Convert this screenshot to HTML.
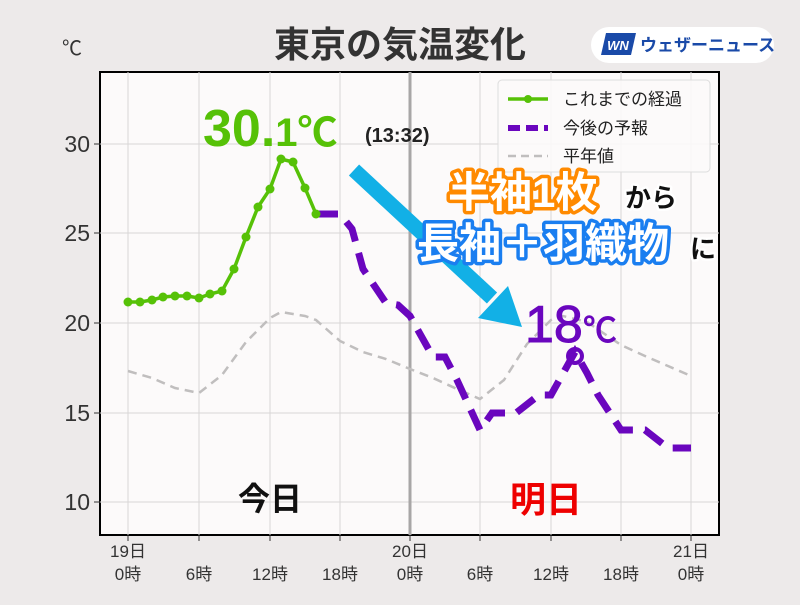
<!DOCTYPE html>
<html><head><meta charset="utf-8"><style>
body{margin:0;background:#edeaea;}
svg text{font-family:"Liberation Sans","Noto Sans CJK JP",sans-serif;}
</style></head><body>
<svg width="800" height="600" viewBox="0 0 800 600" xmlns="http://www.w3.org/2000/svg">
<rect width="800" height="600" fill="#edeaea"/>
<text x="400" y="57" text-anchor="middle" font-size="36" font-weight="bold" fill="#333">東京の気温変化</text>
<text x="62" y="55" font-size="20" fill="#333">℃</text>
<rect x="591" y="27" width="183" height="36" rx="18" fill="#fff"/>
<polygon points="606,33 636,33 631,55 601,55" fill="#1a4aa8"/>
<text x="618" y="50" text-anchor="middle" font-size="13" font-weight="bold" font-style="italic" fill="#fff">WN</text>
<text x="640" y="51" font-size="17" font-weight="bold" fill="#1a4aa8">ウェザーニュース</text>
<rect x="100" y="72" width="619" height="463" fill="#fcfafa" stroke="#000" stroke-width="2"/>
<g stroke="#d8d6d6" stroke-width="1">
<line x1="100" y1="144" x2="719" y2="144"/><line x1="100" y1="233" x2="719" y2="233"/><line x1="100" y1="323" x2="719" y2="323"/><line x1="100" y1="413" x2="719" y2="413"/><line x1="100" y1="502" x2="719" y2="502"/>
<line x1="128" y1="72" x2="128" y2="535"/><line x1="199" y1="72" x2="199" y2="535"/><line x1="270" y1="72" x2="270" y2="535"/><line x1="340" y1="72" x2="340" y2="535"/><line x1="480" y1="72" x2="480" y2="535"/><line x1="551" y1="72" x2="551" y2="535"/><line x1="621" y1="72" x2="621" y2="535"/><line x1="691" y1="72" x2="691" y2="535"/>
</g>
<line x1="410" y1="72" x2="410" y2="535" stroke="#a8a6a6" stroke-width="3"/>
<g font-size="23" fill="#333" text-anchor="end">
<text x="90" y="152">30</text><text x="90" y="241">25</text><text x="90" y="331">20</text><text x="90" y="421">15</text><text x="90" y="510">10</text>
</g>
<g stroke="#333" stroke-width="1">
<line x1="128" y1="535" x2="128" y2="541"/><line x1="199" y1="535" x2="199" y2="541"/><line x1="270" y1="535" x2="270" y2="541"/><line x1="340" y1="535" x2="340" y2="541"/><line x1="410" y1="535" x2="410" y2="541"/><line x1="480" y1="535" x2="480" y2="541"/><line x1="551" y1="535" x2="551" y2="541"/><line x1="621" y1="535" x2="621" y2="541"/><line x1="691" y1="535" x2="691" y2="541"/>
<line x1="94" y1="144" x2="100" y2="144"/><line x1="94" y1="233" x2="100" y2="233"/><line x1="94" y1="323" x2="100" y2="323"/><line x1="94" y1="413" x2="100" y2="413"/><line x1="94" y1="502" x2="100" y2="502"/>
</g>
<g font-size="17" fill="#333" text-anchor="middle">
<text x="128" y="557">19日</text><text x="128" y="580">0時</text>
<text x="199" y="580">6時</text><text x="270" y="580">12時</text><text x="340" y="580">18時</text>
<text x="410" y="557">20日</text><text x="410" y="580">0時</text>
<text x="480" y="580">6時</text><text x="551" y="580">12時</text><text x="621" y="580">18時</text>
<text x="691" y="557">21日</text><text x="691" y="580">0時</text>
</g>
<polyline fill="none" stroke="#c0bebe" stroke-width="2.5" stroke-dasharray="9,6" points="128,371 152,378 175,388 199,393 222,375 246,342 270,318 281,312 305,316 316,320 340,341 363,352 386,359 410,369 433,378 457,389 480,399 504,380 527,344 551,320 563,316 587,322 621,345 645,356 668,366 691,376"/>
<polyline fill="none" stroke="#6a06be" stroke-width="7" stroke-dasharray="22,12" points="316,214 340,214 352,229 363,269 386,303 398,305 410,316 433,357 445,357 457,380 480,430 492,413 516,413 539,395 551,395 575,352 587,373 598,395 621,430 645,430 668,448 691,448"/>
<circle cx="575" cy="356" r="7" fill="none" stroke="#6a06be" stroke-width="4"/>
<polyline fill="none" stroke="#56c107" stroke-width="3.5" points="128,302 140,302 152,300 163,297 175,296 187,296 199,298 210,294 222,291 234,269 246,237 258,207 270,189 281,159 293,162 305,188 316,214"/>
<g fill="#56c107">
<circle cx="128" cy="302" r="4.5"/><circle cx="140" cy="302" r="4.5"/><circle cx="152" cy="300" r="4.5"/><circle cx="163" cy="297" r="4.5"/><circle cx="175" cy="296" r="4.5"/><circle cx="187" cy="296" r="4.5"/><circle cx="199" cy="298" r="4.5"/><circle cx="210" cy="294" r="4.5"/><circle cx="222" cy="291" r="4.5"/><circle cx="234" cy="269" r="4.5"/><circle cx="246" cy="237" r="4.5"/><circle cx="258" cy="207" r="4.5"/><circle cx="270" cy="189" r="4.5"/><circle cx="281" cy="159" r="4.5"/><circle cx="293" cy="162" r="4.5"/><circle cx="305" cy="188" r="4.5"/><circle cx="316" cy="214" r="4.5"/>
</g>
<rect x="498" y="80" width="212" height="92" rx="4" fill="#fcfafa" fill-opacity="0.9" stroke="#ddd"/>
<line x1="508" y1="99" x2="548" y2="99" stroke="#56c107" stroke-width="3.5"/><circle cx="528" cy="99" r="4" fill="#56c107"/>
<line x1="508" y1="128" x2="548" y2="128" stroke="#6a06be" stroke-width="6" stroke-dasharray="12,6"/>
<line x1="508" y1="156" x2="548" y2="156" stroke="#c0bebe" stroke-width="2.5" stroke-dasharray="8,5"/>
<g font-size="17" fill="#222"><text x="563" y="105">これまでの経過</text><text x="563" y="134">今後の予報</text><text x="563" y="162">平年値</text></g>
<line x1="354" y1="170" x2="492" y2="298" stroke="#12b0e6" stroke-width="15"/>
<polygon points="522,327 478,318 508,286" fill="#12b0e6"/>
<text x="203" y="146" font-size="52" font-weight="bold" fill="#56c107">30.<tspan font-size="40">1℃</tspan></text>
<text x="365" y="142" font-size="20" font-weight="bold" fill="#222">(13:32)</text>
<text x="525" y="342" font-size="52" fill="#6a06be" stroke="#6a06be" stroke-width="1">18<tspan font-size="34">℃</tspan></text>
<g font-weight="bold" paint-order="stroke" stroke-linejoin="round">
<text x="448" y="207" font-size="42" fill="#fff" stroke="#ff8a00" stroke-width="7">半袖1枚</text>
<text x="625" y="207" font-size="26" fill="#111" stroke="#fff" stroke-width="5">から</text>
<text x="417" y="258" font-size="42" fill="#fff" stroke="#1a7ef0" stroke-width="7">長袖＋羽織物</text>
<text x="690" y="258" font-size="26" fill="#111" stroke="#fff" stroke-width="5">に</text>
</g>
<text x="238" y="510" font-size="32" font-weight="bold" fill="#111">今日</text>
<text x="510" y="512" font-size="36" font-weight="bold" fill="#ee0000">明日</text>
</svg>
</body></html>
